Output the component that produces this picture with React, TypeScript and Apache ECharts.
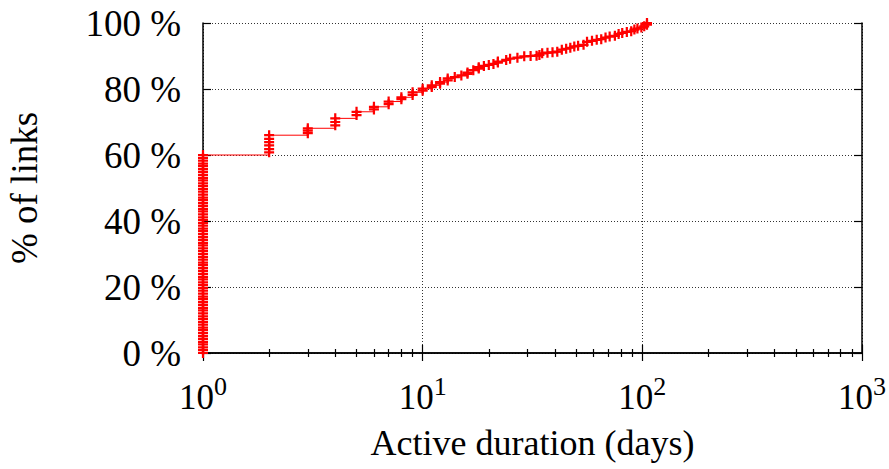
import React, { useEffect, useRef } from 'react';
import * as echarts from 'echarts';

// Distinct active durations (days), x values
const durationDays = [
  1, 2, 3, 4, 5, 6, 7, 8, 9, 10, 11, 12, 13, 14, 15, 16, 17, 18, 19, 20, 21, 22, 24, 25, 27,
  29, 31, 33, 34, 35, 37, 39, 41, 43, 45, 47, 49, 51, 54, 56, 59, 62, 65, 68, 71, 75,
  78, 81, 85, 89, 92, 95, 99, 102, 105,
];

// Cumulative % of links for the points plotted at each duration
const cumulativePercents: number[][] = [
  [0, 0.9, 1.7, 2.6, 3.4, 4.3, 5.1, 6.0, 6.9, 7.7, 8.6, 9.4, 10.3, 11.1, 12.0, 12.9, 13.7, 14.6,
    15.4, 16.3, 17.1, 18.0, 18.9, 19.7, 20.6, 21.4, 22.3, 23.1, 24.0, 24.9, 25.7, 26.6, 27.4,
    28.3, 29.1, 30.0, 30.9, 31.7, 32.6, 33.4, 34.3, 35.1, 36.0, 36.9, 37.7, 38.6, 39.4, 40.3,
    41.1, 42.0, 42.9, 43.7, 44.6, 45.4, 46.3, 47.1, 48.0, 48.9, 49.7, 50.6, 51.4, 52.3, 53.1,
    54.0, 54.9, 55.7, 56.6, 57.4, 58.3, 59.1, 60.0],
  [60.8, 61.8, 62.9, 63.9, 64.9, 66.0],
  [66.6, 67.4, 68.1],
  [69.0, 70.0, 71.1],
  [72.1, 73.1],
  [73.8, 74.6],
  [75.4, 76.2],
  [76.9, 77.5],
  [78.2, 79.0],
  [79.5, 80.1],
  [80.6, 81.1],
  [81.6, 82.1],
  [82.6, 83.2],
  [83.6],
  [84.1],
  [84.6, 85.0],
  [85.7],
  [86.2, 86.6],
  [87.0],
  [87.3],
  [87.6],
  [88.0, 88.3],
  [88.8],
  [89.2],
  [89.5],
  [89.9], [90.0], [90.1], [90.3],
  [90.8], [91.0], [91.1], [91.3],
  [91.9], [92.2], [92.5],
  [92.9], [93.1], [93.4],
  [94.3], [94.6], [94.9], [95.1],
  [95.6], [95.9], [96.1],
  [96.7], [97.0], [97.3], [97.5],
  [98.0], [98.3], [98.6], [99.0],
  [99.5, 100.0],
];

const xTickValues = [1, 10, 100, 1000];
const yTickLabels = ['0 %', '20 %', '40 %', '60 %', '80 %', '100 %'];

const FONT = '"Liberation Serif", "Times New Roman", Times, serif';
const PLUS = 'path://M0,3.5H3.5V0H5.5V3.5H9V5.5H5.5V9H3.5V5.5H0Z';

export default function App() {
  const ref = useRef<HTMLDivElement>(null);
  useEffect(() => {
    const chart = echarts.init(ref.current!, null, { renderer: 'svg' });
    const points: number[][] = [];
    durationDays.forEach((d, i) => {
      cumulativePercents[i].forEach((p) => points.push([d, p]));
    });
    const axisLine = { show: true, lineStyle: { color: '#000', width: 1.5 } };
    const grid = { type: [1, 2], color: '#333', width: 1 };
    chart.setOption({
      animation: false,
      backgroundColor: '#fff',
      grid: { left: 203, right: 27, top: 23, bottom: 116, containLabel: false, outerBoundsMode: 'none' },
      xAxis: [
        {
          type: 'log', logBase: 10, min: xTickValues[0], max: xTickValues[xTickValues.length - 1],
          position: 'bottom',
          name: 'Active duration (days)', nameLocation: 'middle', nameGap: 72, nameMoveOverlap: false,
          nameTextStyle: { fontFamily: FONT, fontSize: 36, color: '#000' },
          axisLine,
          axisTick: { show: true, inside: true, length: 8, lineStyle: { color: '#000', width: 1.2 } },
          minorTick: { show: true, splitNumber: 9, length: 4, lineStyle: { color: '#000', width: 1.2 } },
          splitLine: { show: true, lineStyle: grid },
          axisLabel: {
            margin: 20,
            showMinLabel: true, showMaxLabel: true,
            formatter: (v: number) => `{b|10}{s|${Math.round(Math.log10(v))}}`,
            rich: {
              b: { fontFamily: FONT, fontSize: 35, lineHeight: 42, color: '#000', verticalAlign: 'bottom' },
              s: { fontFamily: FONT, fontSize: 26, lineHeight: 26, color: '#000', verticalAlign: 'top' },
            },
          },
        },
        {
          type: 'log', logBase: 10, min: xTickValues[0], max: xTickValues[xTickValues.length - 1],
          position: 'top',
          axisLine,
          axisTick: { show: true, inside: true, length: 8, lineStyle: { color: '#000', width: 1.2 } },
          minorTick: { show: true, splitNumber: 9, length: 4, lineStyle: { color: '#000', width: 1.2 } },
          splitLine: { show: false },
          axisLabel: { show: false },
        },
      ],
      yAxis: [
        {
          type: 'value', min: 0, max: 100, interval: 20, position: 'left',
          name: '% of links', nameLocation: 'middle', nameGap: 160, nameRotate: 90, nameMoveOverlap: false,
          nameTextStyle: { fontFamily: FONT, fontSize: 37, color: '#000' },
          axisLine,
          axisTick: { show: true, inside: true, length: 8, lineStyle: { color: '#000', width: 1.2 } },
          splitLine: { show: true, lineStyle: grid },
          axisLabel: {
            margin: 22,
            fontFamily: FONT, fontSize: 37, color: '#000',
            formatter: (v: number) => yTickLabels[Math.round(v / 20)],
          },
        },
        {
          type: 'value', min: 0, max: 100, interval: 20, position: 'right',
          axisLine,
          axisTick: { show: true, inside: true, length: 8, lineStyle: { color: '#000', width: 1.2 } },
          splitLine: { show: false },
          axisLabel: { show: false },
        },
      ],
      series: [
        {
          type: 'line',
          xAxisIndex: 0,
          yAxisIndex: 0,
          data: points,
          step: 'end',
          clip: false,
          silent: true,
          symbol: PLUS,
          symbolSize: 10,
          showSymbol: true,
          showAllSymbol: true,
          lineStyle: { color: '#ff0000', width: 1 },
          itemStyle: { color: '#ff0000' },
          z: 3,
        },
      ],
    });
    return () => chart.dispose();
  }, []);
  return (
    <div
      ref={ref}
      style={{ position: 'fixed', left: 0, top: 0, width: 889, height: 469, background: '#fff' }}
    />
  );
}
